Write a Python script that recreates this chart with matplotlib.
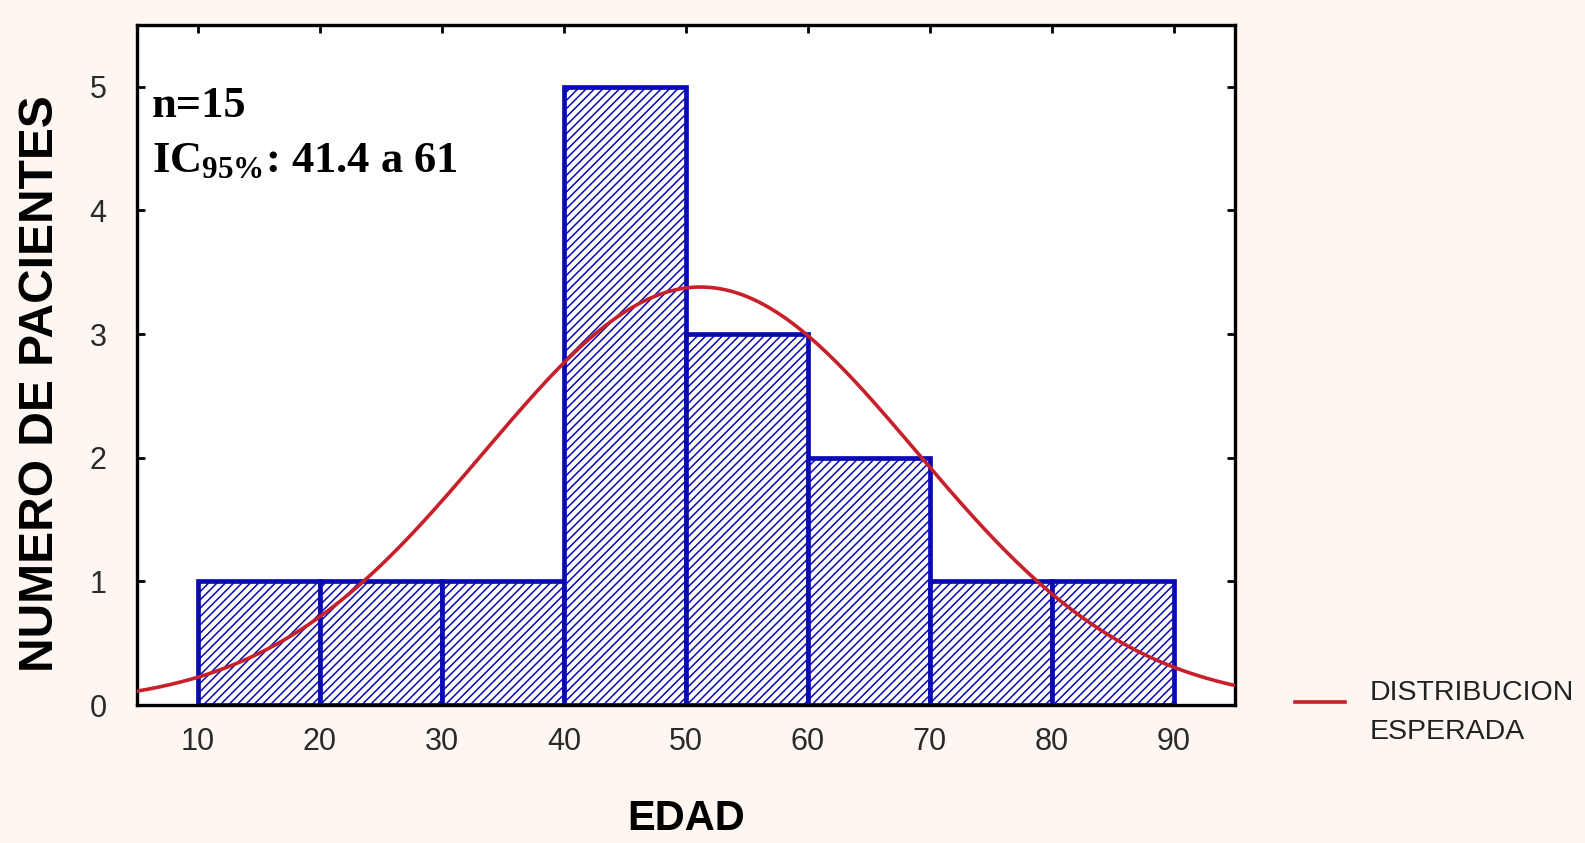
import numpy as np
import matplotlib
matplotlib.use("Agg")
import matplotlib.pyplot as plt
from matplotlib.legend_handler import HandlerLine2D

# age bins (EDAD) and number of patients in each
BIN_EDGES = [10, 20, 30, 40, 50, 60, 70, 80, 90]
COUNTS = [1, 1, 1, 5, 3, 2, 1, 1]
# fitted normal for the expected distribution
MEAN = 51.2
SD = 17.7
N = 15
IC_LOW, IC_HIGH = 41.4, 61

XTICKS = [10, 20, 30, 40, 50, 60, 70, 80, 90]
YTICKS = [0, 1, 2, 3, 4, 5]

plt.rcParams["font.family"] = ["Liberation Sans", "DejaVu Sans"]
plt.rcParams["hatch.color"] = "#2c2c55"
plt.rcParams["hatch.linewidth"] = 1.1
plt.rcParams["mathtext.fontset"] = "custom"
plt.rcParams["mathtext.rm"] = "Liberation Serif:bold"
plt.rcParams["mathtext.it"] = "Liberation Serif:bold"
plt.rcParams["mathtext.bf"] = "Liberation Serif:bold"

fig = plt.figure(figsize=(15.85, 8.43), dpi=100, facecolor="#fdf6f1")
ax = fig.add_axes([0.0864, 0.1637, 0.6926, 0.8066])
ax.set_facecolor("white")

edges = np.array(BIN_EDGES, dtype=float)
widths = np.diff(edges)
ax.bar(edges[:-1], COUNTS, width=widths, align="edge",
       facecolor="white", edgecolor="#0a0ab4", linewidth=3.4,
       hatch="////", zorder=2)

# expected counts per 10-year bin under the normal fit
x = np.linspace(5, 95, 400)
binw = widths[0]
y = N * binw / (SD * np.sqrt(2 * np.pi)) * np.exp(-0.5 * ((x - MEAN) / SD) ** 2)
line, = ax.plot(x, y, color="#c8202a", linewidth=2.6, zorder=3,
                label="DISTRIBUCION\nESPERADA")

ax.set_xlim(5, 95)
ax.set_ylim(0, 5.5)
ax.set_xticks(XTICKS)
ax.set_yticks(YTICKS)
ax.tick_params(direction="in", length=6, width=2, top=True, right=True,
               labelsize=22, labelcolor="#2a2a2a", pad=16)
ax.tick_params(axis="y", pad=22)
for s in ax.spines.values():
    s.set_linewidth(2.4)
    s.set_color("black")

ax.set_xlabel("EDAD", fontsize=30, fontweight="bold", labelpad=30)
fig.text(0.0255, 0.5445, "NUMERO DE PACIENTES", rotation=90, fontsize=34.5,
         fontweight="bold", ha="center", va="center")

ax.text(0.0137, 0.865, "n=15", transform=ax.transAxes, fontsize=32,
        fontweight="bold", family="Liberation Serif", va="baseline")
ax.text(0.0137, 0.784, r"IC$_{95\%}$" + f": {IC_LOW} a {IC_HIGH}",
        transform=ax.transAxes, fontsize=32, fontweight="bold",
        family="Liberation Serif", va="baseline")


class TopAlignedLine(HandlerLine2D):
    # put the legend line next to the first text row
    def create_artists(self, legend, orig_handle, xdescent, ydescent,
                       width, height, fontsize, trans):
        arts = super().create_artists(legend, orig_handle, xdescent, ydescent,
                                      width, height, fontsize, trans)
        for a in arts:
            yd = np.asarray(a.get_ydata(), dtype=float)
            a.set_ydata(yd + height * 0.5)
        return arts


leg = fig.legend(handles=[line], loc="upper left", bbox_to_anchor=(0.801, 0.224),
                 frameon=False, fontsize=20.5, handlelength=1.75, handletextpad=0.85,
                 handler_map={line: TopAlignedLine()})
for t in leg.get_texts():
    t.set_linespacing(1.65)
    t.set_color("#222222")

fig.savefig("out.png", dpi=100, facecolor=fig.get_facecolor())
